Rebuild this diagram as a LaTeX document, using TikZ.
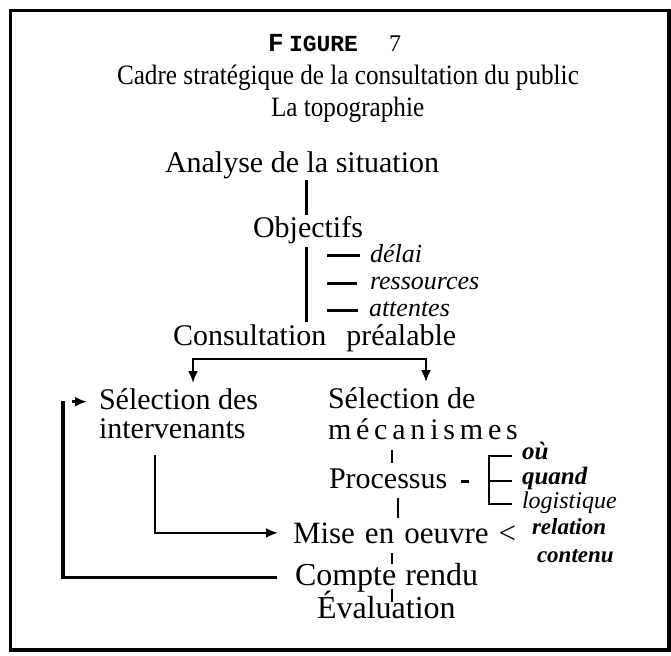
\documentclass[tikz,border=0pt]{standalone}
\usepackage{fontspec}
\setmainfont{Liberation Serif}
\newfontfamily\condserif{Liberation Serif}[FakeStretch=0.9]
\newfontfamily\monofig{Liberation Mono}
\usetikzlibrary{arrows.meta}

\begin{document}
\begin{tikzpicture}[x=1pt,y=-1pt,
  txt/.style={inner sep=0pt, outer sep=0pt, anchor=base west},
  lbl/.style={txt, font=\fontsize{30}{36}\selectfont},
  ttl/.style={txt, font=\condserif\fontsize{28}{32}\selectfont},
  itl/.style={txt, font=\fontsize{26}{30}\selectfont\itshape},
  bit/.style={txt, font=\fontsize{24}{28}\selectfont\bfseries\itshape},
  trunk/.style={line width=3pt},
  fork/.style={line width=2.5pt, -{Latex[length=12pt,width=10pt]}},
  loopline/.style={line width=3.5pt},
  tick/.style={line width=2.2pt},
  brk/.style={line width=1.8pt},
]
\useasboundingbox (0,0) rectangle (671,655);

% frame, heavier on the right and bottom
\draw[line width=3pt] (10,651) -- (10,10.5) -- (669,10.5);
\draw[line width=4.5pt] (669,9) -- (669,650) -- (8.5,650);

% heading
\node[txt, font=\monofig\bfseries\fontsize{26}{30}\selectfont] (figF) at (268,52) {F};
\node[txt, font=\monofig\bfseries\fontsize{23}{30}\selectfont] (figR) at (289,52) {IGURE};
\node[txt, font=\fontsize{24}{30}\selectfont] (fignum) at (389,52) {7};
\node[ttl] (title) at (117,85) {Cadre stratégique de la consultation du public};
\node[ttl] (subtitle) at (271,117) {La topographie};

% main labels
\node[lbl] (analyse) at (165,172) {Analyse de la situation};
\node[lbl] (objectifs) at (253,237) {Objectifs};
\node[itl] (delai) at (370,262) {délai};
\node[itl] (ress) at (370,289) {ressources};
\node[itl] (att) at (369,316) {attentes};
\node[lbl] (consult) at (173,345) {Consultation\hspace{20pt}préalable};
\node[lbl] (selA) at (99,409) {Sélection des};
\node[lbl] (selAb) at (99,438) {intervenants};
\node[lbl] (selB) at (328,408) {Sélection de};
\node[lbl, font=\fontsize{30}{36}\selectfont\addfontfeature{LetterSpace=16}] (selBb) at (328,439) {mécanismes};
\node[lbl] (procs) at (329,488) {Processus};
\node[bit, font=\fontsize{25}{28}\selectfont\bfseries\itshape] (ou) at (522,459) {où};
\node[bit, font=\fontsize{25}{28}\selectfont\bfseries\itshape] (quand) at (522,484) {quand};
\node[itl, font=\fontsize{24}{28}\selectfont\itshape] (logi) at (522,508) {logistique};
\node[lbl, font=\fontsize{31}{36}\selectfont] (mise) at (293,543) {Mise\hspace{10pt}en\hspace{10pt}oeuvre\hspace{10pt}<};
\node[bit, font=\fontsize{23}{26}\selectfont\bfseries\itshape] (relation) at (532,534) {relation};
\node[bit, font=\fontsize{23}{26}\selectfont\bfseries\itshape] (contenu) at (537,562) {contenu};
\node[lbl, font=\fontsize{32}{36}\selectfont] (compte) at (295,585) {Compte\hspace{9pt}rendu};
\node[lbl, font=\fontsize{32}{36}\selectfont] (eval) at (317,618) {Évaluation};

% reference columns for the connectors
\coordinate (trunkx) at (306,0);
\coordinate (forkL) at (193,0);
\coordinate (forkR) at (426,0);
\coordinate (loopx) at (63,0);
\coordinate (spineA) at (392,0);
\coordinate (spineB) at (398,0);

% trunk of the upper part
\draw[trunk] ([yshift=-8pt]analyse.base -| trunkx) -- ([yshift=22pt]objectifs.base -| trunkx);
\draw[trunk] ([yshift=-10pt]objectifs.base -| trunkx) -- ([yshift=23pt]consult.base -| trunkx);
\draw[trunk] ([xshift=-10pt,yshift=7pt]delai.base west) -- ++(-33,0);
\draw[trunk] ([xshift=-13pt,yshift=6pt]ress.base west) -- ++(-30,0);
\draw[trunk] ([xshift=-11pt,yshift=6pt]att.base west) -- ++(-31,0);

% fork below the prior consultation
\coordinate (cmid) at ([yshift=-14pt]consult.base);
\draw[fork] (cmid) -| ([yshift=5pt]selA.north -| forkL);
\draw[fork] (cmid) -| ([yshift=5pt]selB.north -| forkR);

% stakeholders feed the implementation
\draw[fork] ([yshift=-17pt]selAb.base -| 155,0) |- ([xshift=-15pt]mise.west);

% feedback loop from the report
\draw[loopline] ([xshift=-18pt]compte.west) -- (compte.west -| loopx) -- ([yshift=-2pt]selA.west -| loopx);
\draw[fork] ([xshift=-27pt,yshift=-3pt]selA.west) -- ([xshift=-12pt,yshift=-3pt]selA.west);

% spine of the lower part
\draw[tick] ([yshift=-11pt]selBb.base -| spineA) -- ([yshift=25pt]procs.base -| spineA);
\draw[tick] ([yshift=-10pt]procs.base -| spineB) -- ([yshift=25pt]mise.base -| spineB);
\draw[tick] ([yshift=-10pt]mise.base -| spineA) -- ([yshift=21pt]compte.base -| spineA);
\draw[tick] ([yshift=-4pt]compte.base -| spineA) -- ([yshift=16pt]eval.base -| spineA);

% process details
\draw[trunk] ([xshift=14pt,yshift=7pt]procs.base east) -- ++(8,0);
\draw[brk] ([xshift=-10pt,yshift=3pt]ou.base west) -| ([xshift=-33pt,yshift=4pt]logi.base west) -- ([xshift=-10pt,yshift=4pt]logi.base west);
\draw[brk] ([xshift=-10pt,yshift=3pt]quand.base west) -- ([xshift=-33pt,yshift=3pt]quand.base west);
\end{tikzpicture}
\end{document}
